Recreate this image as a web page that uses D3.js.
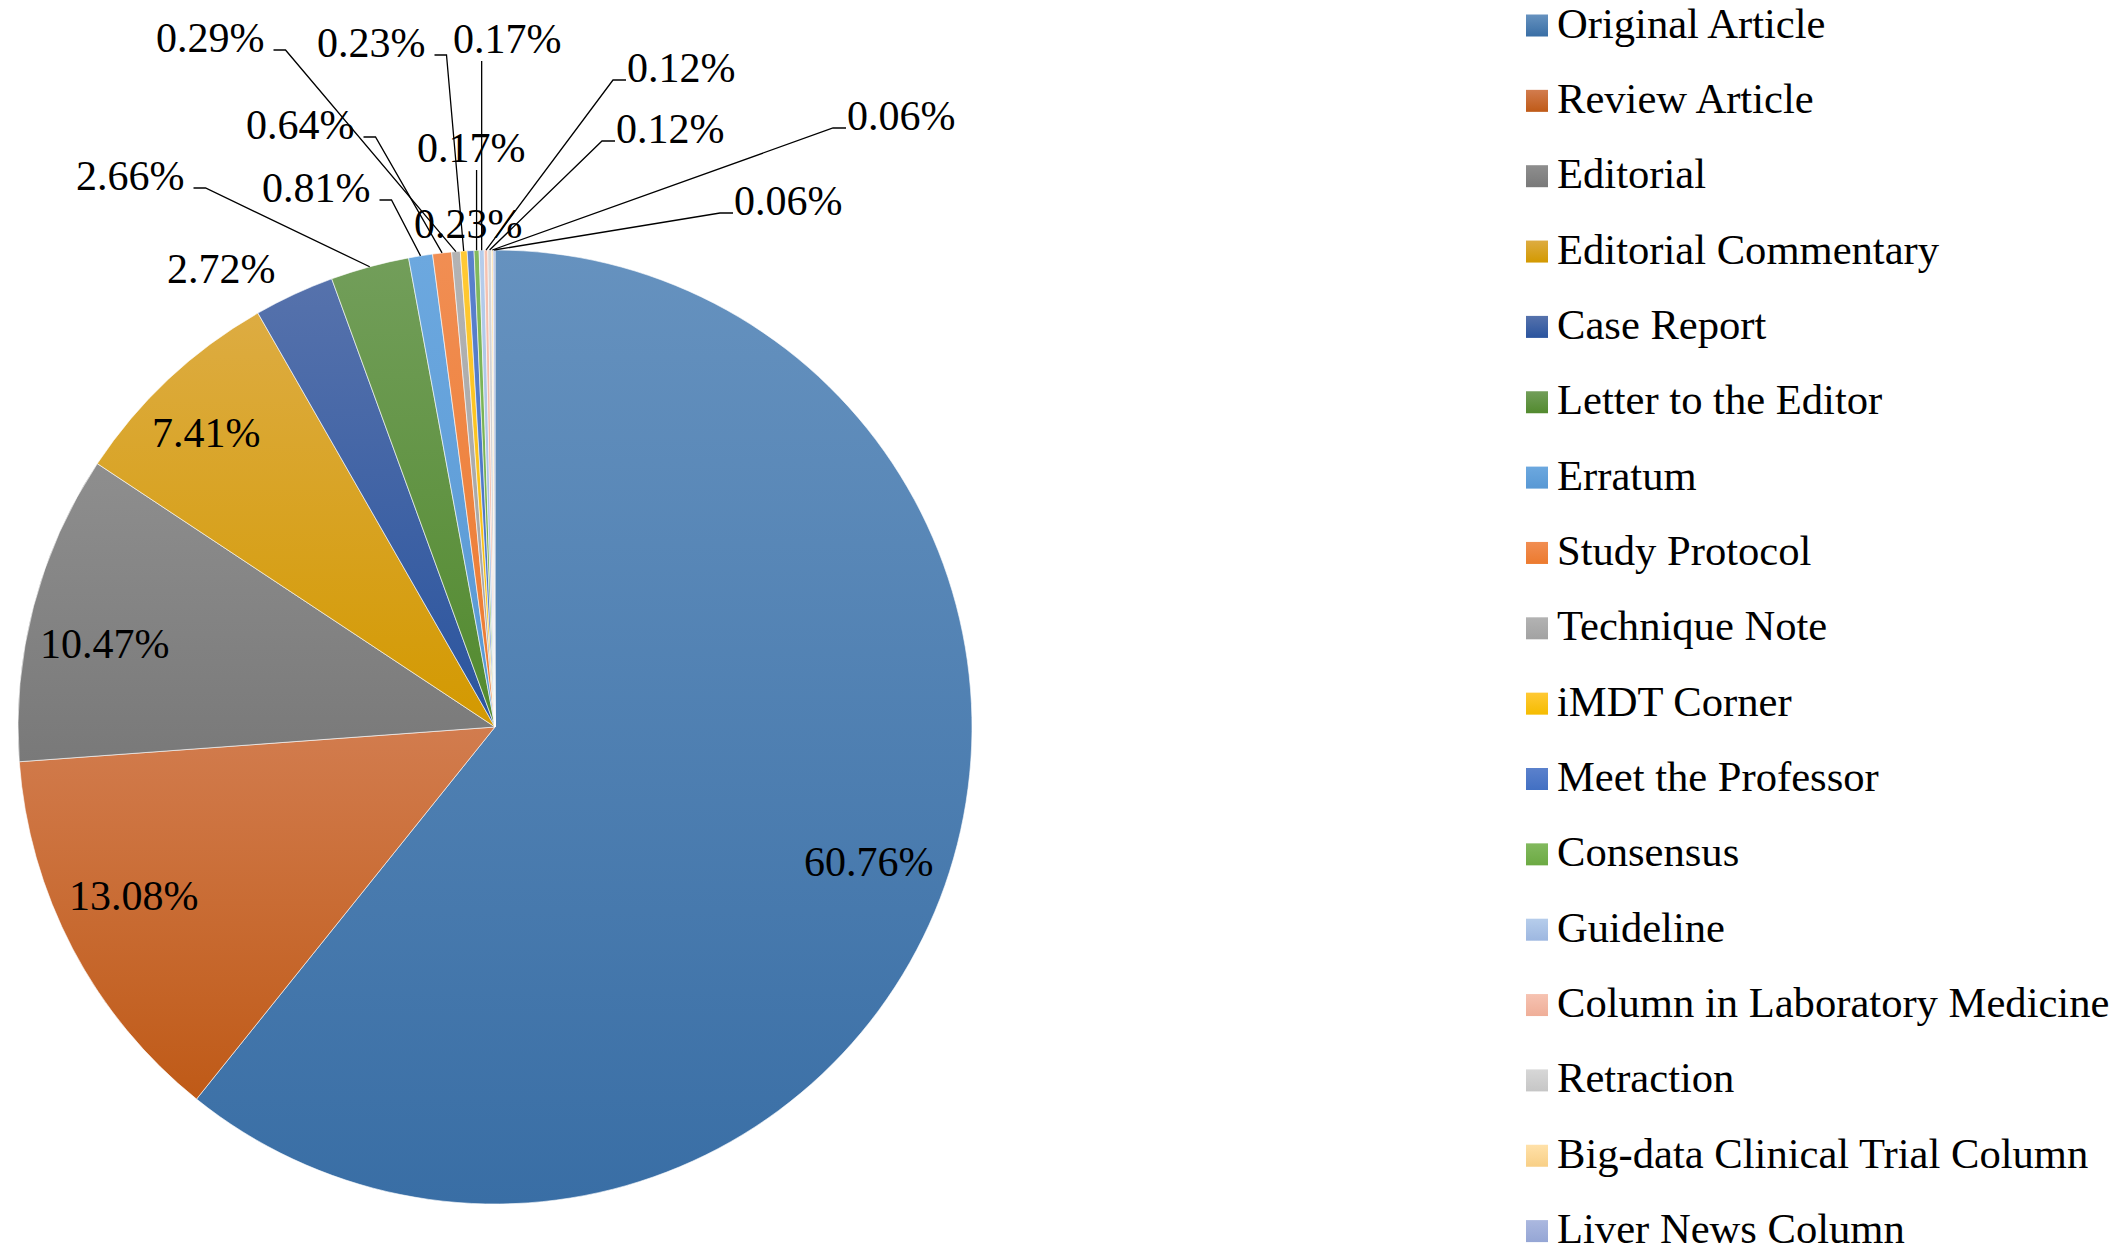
<!DOCTYPE html>
<html>
<head>
<meta charset="utf-8">
<script src="https://cdn.jsdelivr.net/npm/d3@7"></script>
<style>
  body { margin: 0; background: #fff; }
  svg text { font-family: "Liberation Serif", "Times New Roman", serif; fill: #000; }
</style>
</head>
<body>
<div id="chart"></div>
<script>
// article types, in the order Excel draws them (clockwise from 12 o'clock)
const categories = [
  "Original Article", "Review Article", "Editorial", "Editorial Commentary",
  "Case Report", "Letter to the Editor", "Erratum", "Study Protocol",
  "Technique Note", "iMDT Corner", "Meet the Professor", "Consensus",
  "Guideline", "Column in Laboratory Medicine", "Retraction",
  "Big-data Clinical Trial Column", "Liver News Column"
];

// share of all articles (%)
const shares = [60.76, 13.08, 10.47, 7.41, 2.72, 2.66, 0.81, 0.64, 0.29,
  0.23, 0.23, 0.17, 0.17, 0.12, 0.12, 0.06, 0.06];

// gradient fill: lighter at top, base colour at bottom
const topColors = ["#6692bf", "#d27c4e", "#8e8e8e", "#ddac42", "#5672ac", "#729e5a",
  "#6ca8df", "#f18e53", "#b3b3b3", "#ffc935", "#5b81cc", "#82b95e",
  "#b6cdeb", "#f6c3b2", "#d7d7d7", "#ffe1a9", "#abb8df"];
const bottomColors = ["#396ea5", "#bf5a17", "#797979", "#d39900", "#2a549e", "#528a2e",
  "#5898d4", "#ec7a2e", "#a2a2a2", "#f5bc00", "#4270c3", "#6caa43",
  "#9db7e0", "#efae98", "#c6c6c6", "#f8cf86", "#95a6d5"];

// where Excel put each data label (text start x, baseline y) and how its leader attaches
const labelLayout = [
  { x: 804, y: 876, leader: "none" },
  { x: 69, y: 910, leader: "none" },
  { x: 40, y: 658, leader: "none" },
  { x: 152, y: 447, leader: "none" },
  { x: 167, y: 283, leader: "none" },
  { x: 76, y: 190, leader: "left" },
  { x: 262, y: 202, leader: "left" },
  { x: 246, y: 139, leader: "left" },
  { x: 156, y: 52, leader: "left" },
  { x: 317, y: 57, leader: "left" },
  { x: 414, y: 238, leader: "none" },
  { x: 417, y: 162, leader: "below" },
  { x: 453, y: 53, leader: "below" },
  { x: 627, y: 82, leader: "right" },
  { x: 616, y: 143, leader: "right" },
  { x: 847, y: 130, leader: "right" },
  { x: 734, y: 215, leader: "right" }
];

let svgWidth = 2124;
let svgHeight = 1251;

let pieCenter = { x: 495, y: 727 };
let radius = 477;
let fontSize = 42;
let legendFontSize = 42.6;

let svg = d3.select("#chart")
  .append("svg")
  .attr("width", svgWidth)
  .attr("height", svgHeight);

svg.append("rect")
  .attr("width", svgWidth)
  .attr("height", svgHeight)
  .attr("fill", "#fff");

/********************************************/
// gradients, one per category
let defs = svg.append("defs");
categories.forEach(function (c, i) {
  let grad = defs.append("linearGradient")
    .attr("id", "grad" + i)
    .attr("x1", 0).attr("y1", 0)
    .attr("x2", 0).attr("y2", 1);
  grad.append("stop").attr("offset", "0%").attr("stop-color", topColors[i]);
  grad.append("stop").attr("offset", "100%").attr("stop-color", bottomColors[i]);
});

let pieData = categories.map((c, i) => ({ name: c, value: shares[i], index: i }));

let pie = d3.pie()
  .sort(null)
  .value(d => d.value);

let arcs = pie(pieData);

let arc = d3.arc()
  .innerRadius(0)
  .outerRadius(radius);

// zero-width ring on the rim: centroid gives the rim point at the slice middle
let rimArc = d3.arc()
  .innerRadius(radius)
  .outerRadius(radius);

let pieGroup = svg.append("g")
  .attr("transform", `translate(${pieCenter.x}, ${pieCenter.y})`);

pieGroup.selectAll("path.slice")
  .data(arcs)
  .enter()
  .append("path")
  .attr("class", "slice")
  .attr("d", arc)
  .attr("fill", d => `url(#grad${d.data.index})`)
  .attr("stroke", "#ffffff")
  .attr("stroke-opacity", 0.6)
  .attr("stroke-width", 1);

/********************************************/
// data labels and leader lines
let labelGroup = svg.append("g");
let leaderGroup = svg.append("g");

arcs.forEach(function (d) {
  let i = d.data.index;
  let lay = labelLayout[i];
  let txt = labelGroup.append("text")
    .attr("x", lay.x)
    .attr("y", lay.y)
    .attr("font-size", fontSize)
    .text(shares[i].toFixed(2) + "%");

  if (lay.leader === "none") return;

  let rim = rimArc.centroid(d);
  let px = pieCenter.x + rim[0];
  let py = pieCenter.y + rim[1];
  let w = txt.node().getComputedTextLength();
  let points;

  if (lay.leader === "left") {
    let sy = lay.y - 2;
    points = [[lay.x + w + 9, sy], [lay.x + w + 21, sy], [px, py]];
  } else if (lay.leader === "right") {
    let sy = lay.y - 2;
    points = [[lay.x - 1, sy], [lay.x - 14, sy], [px, py]];
  } else {
    points = [[px, lay.y + 8], [px, py]];
  }

  leaderGroup.append("path")
    .attr("d", d3.line()(points))
    .attr("fill", "none")
    .attr("stroke", "#000")
    .attr("stroke-width", 1.3);
});

/********************************************/
// legend
let legendX = 1526;
let legendTop = 25.5;
let legendStep = 75.35;
let boxSize = 22;

let legend = svg.append("g");

let rows = legend.selectAll("g.row")
  .data(categories)
  .enter()
  .append("g")
  .attr("class", "row")
  .attr("transform", (d, i) => `translate(${legendX}, ${legendTop + i * legendStep})`);

rows.append("rect")
  .attr("x", 0)
  .attr("y", -boxSize / 2)
  .attr("width", boxSize)
  .attr("height", boxSize)
  .attr("fill", (d, i) => `url(#grad${i})`);

rows.append("text")
  .attr("x", 31)
  .attr("y", 12)
  .attr("font-size", legendFontSize)
  .text(d => d);
</script>
</body>
</html>
